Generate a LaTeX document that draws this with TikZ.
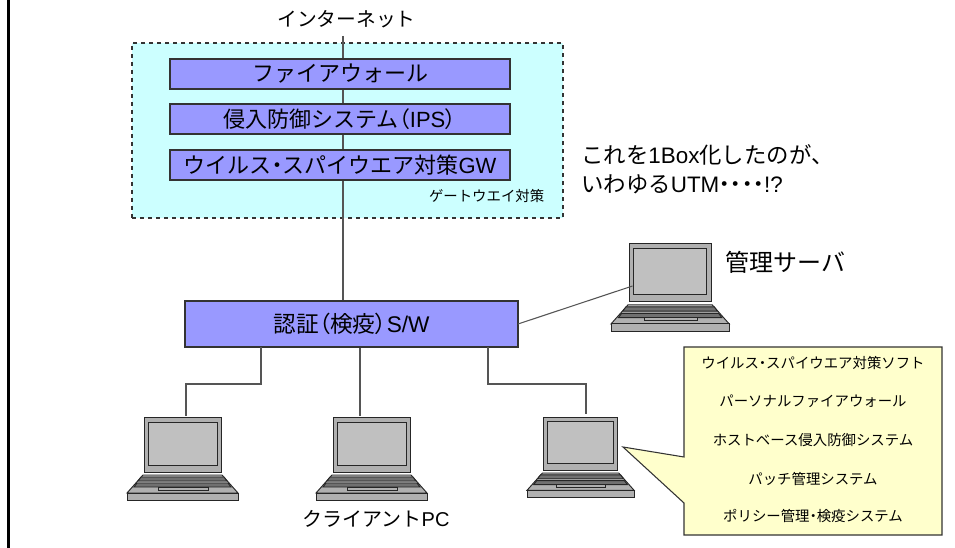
\documentclass[tikz,border=0pt]{standalone}
\usepackage{fontspec}
\setmainfont{Noto Sans CJK JP}
\newfontfamily\pal{Noto Sans CJK JP}[RawFeature=+palt]
\newfontfamily\lat{Liberation Sans}
\definecolor{cyanbg}{HTML}{CCFFFF}
\definecolor{boxblue}{HTML}{9999FF}
\definecolor{noteyel}{HTML}{FFFFCC}
\definecolor{linegray}{HTML}{555555}
\definecolor{lapbody}{HTML}{B0B0B0}
\definecolor{lapscreen}{HTML}{C0C0C0}
\definecolor{lapkey}{HTML}{707070}
\newcommand{\laptop}[4]{%
 \begin{scope}[shift={(#2,#3)},xscale=#4,yscale=#4]
  \draw[lapline,fill=lapbody] (17,0) rectangle (94,55);
  \draw[lapline,fill=lapscreen] (21,5) rectangle (90,48);
  \draw[lapline,fill=lapbody] (0,76) -- (16,58) -- (95,58) -- (111,76) -- cycle;
  \draw[lapline,fill=lapkey] (14,60) -- (97,60) -- (100,64) -- (11,64) -- cycle;
  \draw[lapline,fill=lapkey] (10,66) -- (101,66) -- (104,70) -- (7,70) -- cycle;
  \draw[lapline,fill=lapbody] (31,70) rectangle (81,73);
  \draw[lapline,fill=lapbody] (0,76) rectangle (111,83);
  \coordinate (#1) at (55.5,0);
 \end{scope}}
\newcommand{\dotm}{{\pal ・}}
\newcommand{\lowr}[1]{\raisebox{-1.6pt}{#1}}
\tikzset{
 x=0.75pt,y=-0.75pt,
 lapline/.style={draw=black!85,line width=0.7pt},
 wire/.style={draw=linegray,line width=0.8pt},
 stage/.style={draw=black!80,fill=boxblue,line width=0.8pt,minimum width=255pt,minimum height=22.5pt,inner sep=0pt},
 bigt/.style={font=\fontsize{16.5pt}{18pt}\selectfont},
 lbl/.style={inner sep=0pt},
 note/.style={inner sep=0pt,font=\fontsize{10.8pt}{12pt}\selectfont},
}
\begin{document}
\begin{tikzpicture}
\useasboundingbox (0,0) rectangle (955,548);
\fill[white] (0,0) rectangle (955,548);
\coordinate (edgeT) at (8.5,0);
\coordinate (edgeB) at (8.5,548);
\draw[black,line width=1.6pt] (edgeT) -- (edgeB);

\node[draw=black!80,dashed,fill=cyanbg,line width=0.8pt,minimum width=323.25pt,minimum height=131.25pt,inner sep=0pt] (zone) at (347.5,130.5) {};

\coordinate (netend) at (343,36);
\node[inner sep=0pt,minimum width=249.75pt,minimum height=34.5pt,draw=black!80,fill=boxblue,line width=0.8pt,font=\fontsize{17pt}{18pt}\selectfont] (sw) at (351.5,324) {認証{\pal （}検疫{\pal ）}{\lat S/W}};
\draw[wire] (netend) -- (netend |- sw.north);

\node[stage,bigt] (fw) at (340,74) {\lowr{ファイアウォール}};
\node[stage,bigt] (ips) at (340,119) {\lowr{侵入防御システム{\pal （}{\lat IPS}{\pal ）}}};
\node[stage,bigt] (gw) at (340,165) {\lowr{ウイルス\dotm スパイウエア対策{\lat GW}}};
\node[note,anchor=east] (gwlabel) at (544.5,196) {ゲートウエイ対策};
\node[lbl,font=\fontsize{14.8pt}{16pt}\selectfont] (net) at (346.5,19) {インターネット};

\node[lbl,anchor=west,align=left,font=\fontsize{16.8pt}{21.75pt}\selectfont] (utm) at (581,169.5) {これを{\lat 1Box}化したのが、\\いわゆる{\lat UTM}\dotm\dotm\dotm\dotm{\lat !?}};
\node[lbl,anchor=west,font=\fontsize{18pt}{20pt}\selectfont] (mgr) at (725,262) {管理サーバ};
\node[lbl,font=\fontsize{15pt}{16pt}\selectfont] (cli) at (376,519) {クライアント{\lat PC}};

\laptop{srv}{611}{243}{1.065}
\laptop{c1}{127}{417}{1}
\laptop{c2}{316}{417}{1}
\laptop{c3}{527}{417}{0.965}

\coordinate (srvp) at (632.5,286);
\coordinate (srcsrv) at (518,324);
\draw[wire] (srcsrv) -- (srvp);
\coordinate (d1) at (186,416);
\coordinate (d2) at (360,416);
\coordinate (d3) at (586,414);
\coordinate (s1) at (261,347);
\coordinate (s3) at (488,347);
\draw[wire] (s1) |- (186,384) -- (d1);
\draw[wire] (d2 |- sw.south) -- (d2);
\draw[wire] (s3) |- (586,384) -- (d3);

\coordinate (tip) at (623,447);
\draw[draw=black!80,fill=noteyel,line width=0.8pt] (684,347) -- (942,347) -- (942,535) -- (684,535) -- (684,503) -- (tip) -- (684,457) -- cycle;
\node[note] (n1) at (813,363) {ウイルス\dotm スパイウエア対策ソフト};
\node[note] (n2) at (813,401) {パーソナルファイアウォール};
\node[note] (n3) at (813,440) {ホストベース侵入防御システム};
\node[note] (n4) at (813,479) {パッチ管理システム};
\node[note] (n5) at (813,516) {ポリシー管理\dotm 検疫システム};
\end{tikzpicture}
\end{document}
